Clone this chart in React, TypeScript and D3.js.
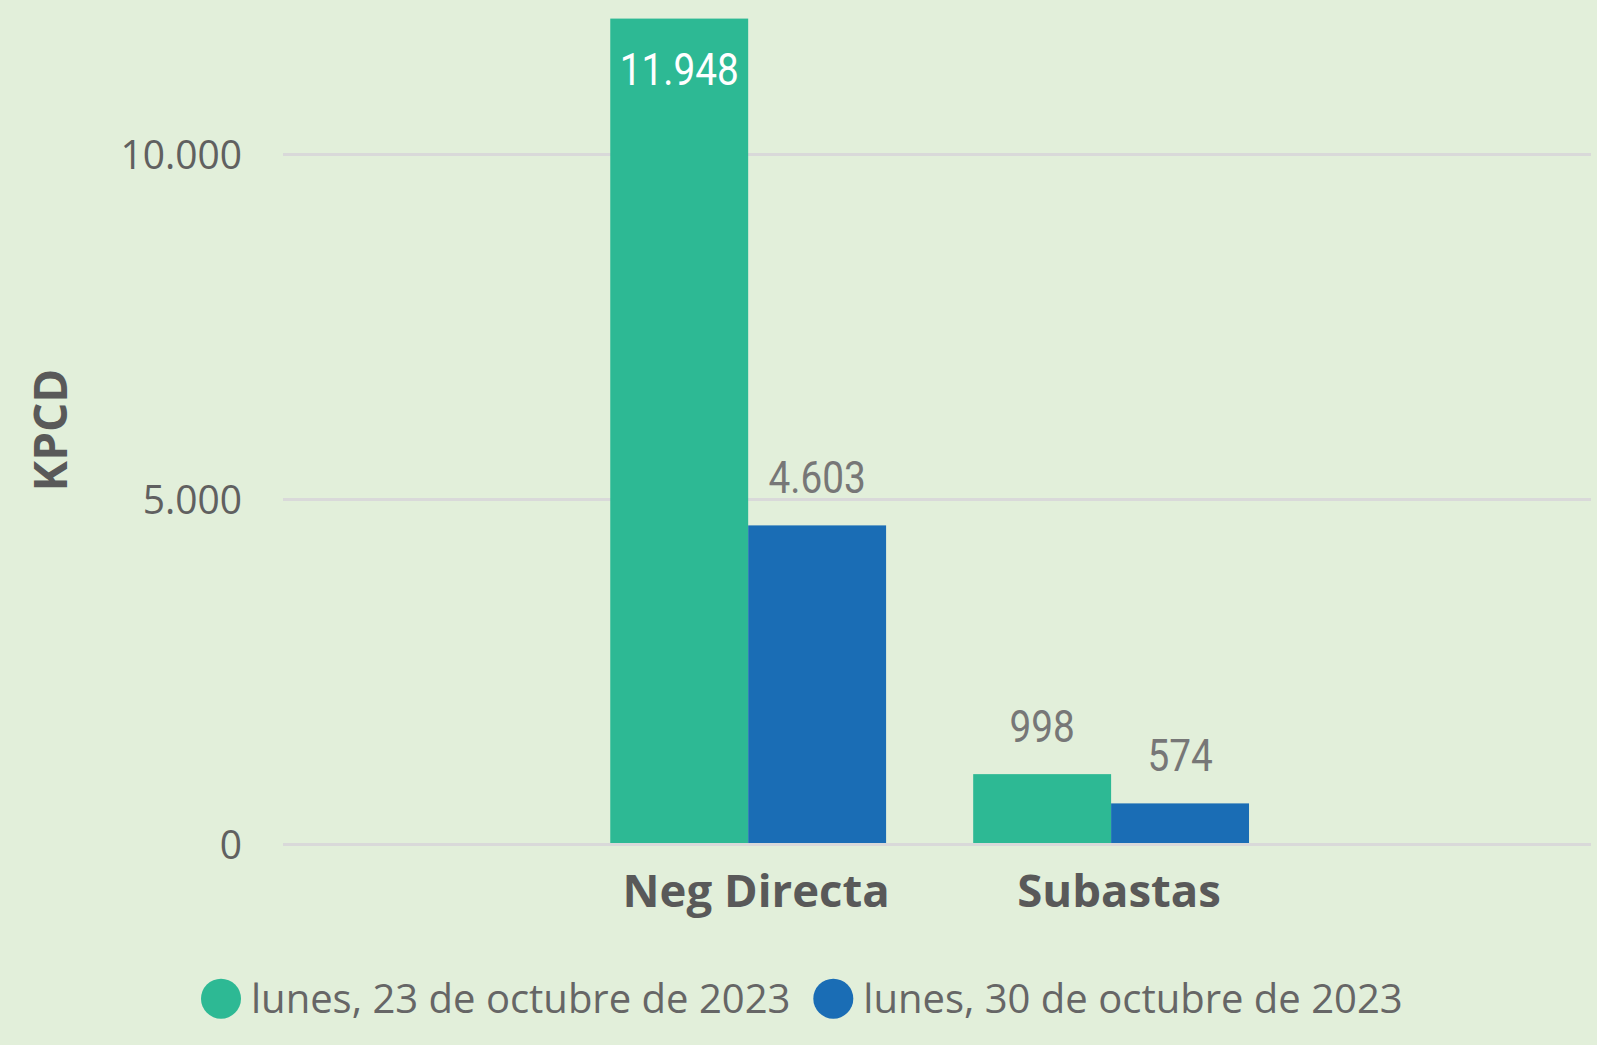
import React from "react";
import * as d3 from "d3";

const categories = ["Neg Directa", "Subastas"];
const seriesNames = ["lunes, 23 de octubre de 2023", "lunes, 30 de octubre de 2023"];
const values23Oct = [11948, 998];
const values30Oct = [4603, 574];
const yTickValues = [0, 5000, 10000];
const axisTitle = "KPCD";

const seriesValues = [values23Oct, values30Oct];
const seriesColors = ["#2DB994", "#1A6DB5"];

const W = 1597;
const H = 1045;
const BG = "#E2EFDA";

const locale = d3.formatLocale({ decimal: ",", thousands: ".", grouping: [3], currency: ["", ""] });
const fmt = locale.format(",d");

export default function App() {
  const y = d3.scaleLinear().domain([0, 10000]).range([843, 153]);
  const x0 = d3
    .scaleBand<string>()
    .domain(categories)
    .range([283, 1591])
    .paddingInner(0.24)
    .paddingOuter(0.922)
    .align(0.489);
  const x1 = d3
    .scaleBand<string>()
    .domain(seriesNames)
    .range([0, x0.bandwidth()])
    .padding(0);

  const labelFont = "Roboto, 'DejaVu Sans', sans-serif";
  const uiFont = "'Open Sans', 'Noto Sans', sans-serif";

  return (
    <svg
      width={W}
      height={H}
      style={{ position: "absolute", left: 0, top: 0, display: "block" }}
      xmlns="http://www.w3.org/2000/svg"
    >
      <rect x={0} y={0} width={W} height={H} fill={BG} />

      {/* gridlines */}
      {yTickValues.map((t) => (
        <rect key={"g" + t} x={283} y={y(t)} width={1591 - 283} height={3} fill="#D9D9D9" />
      ))}

      {/* y tick labels */}
      {yTickValues.map((t) => (
        <text
          key={"t" + t}
          transform={`translate(242,${y(t) + 16}) scale(0.95,1)`}
          textAnchor="end"
          fontFamily={uiFont}
          fontSize={41}
          fill="#606060"
        >
          {fmt(t)}
        </text>
      ))}

      {/* y axis title */}
      <text
        transform={`translate(66.5,430) rotate(-90)`}
        textAnchor="middle"
        fontFamily={uiFont}
        fontWeight={700}
        fontSize={46}
        fill="#595959"
      >
        {axisTitle}
      </text>

      {/* bars */}
      {categories.map((c, ci) => (
        <g key={c} transform={`translate(${x0(c)},0)`}>
          {seriesNames.map((s, si) => {
            const v = seriesValues[si][ci];
            const bx = x1(s) as number;
            const bw = x1.bandwidth();
            const top = y(v);
            return (
              <rect key={s} x={bx} y={top} width={bw} height={y(0) - top} fill={seriesColors[si]} />
            );
          })}
        </g>
      ))}

      {/* data labels */}
      {categories.map((c, ci) => (
        <g key={"l" + c} transform={`translate(${x0(c)},0)`}>
          {seriesNames.map((s, si) => {
            const v = seriesValues[si][ci];
            const cx = (x1(s) as number) + x1.bandwidth() / 2;
            const top = y(v);
            const inside = top - 32 - 32 < 0;
            const ly = inside ? top + 66.5 : top - 32;
            return (
              <text
                key={s}
                transform={`translate(${cx},${ly}) scale(0.88,1)`}
                textAnchor="middle"
                fontFamily={labelFont}
                fontSize={44}
                fill={inside ? "#FFFFFF" : "#777777"}
              >
                {fmt(v)}
              </text>
            );
          })}
        </g>
      ))}

      {/* category labels */}
      {categories.map((c) => (
        <text
          key={"c" + c}
          x={(x0(c) as number) + x0.bandwidth() / 2 + 8}
          y={906.5}
          textAnchor="middle"
          fontFamily={uiFont}
          fontWeight={700}
          fontSize={45.5}
          fill="#595959"
        >
          {c}
        </text>
      ))}

      {/* legend */}
      {seriesNames.map((s, si) => {
        const lx = si === 0 ? 221 : 833.3;
        return (
          <g key={"lg" + s}>
            <circle cx={lx} cy={998.7} r={20} fill={seriesColors[si]} />
            <text
              x={lx + 30}
              y={1013.3}
              fontFamily={uiFont}
              fontSize={40}
              fill="#666666"
            >
              {s}
            </text>
          </g>
        );
      })}
    </svg>
  );
}
